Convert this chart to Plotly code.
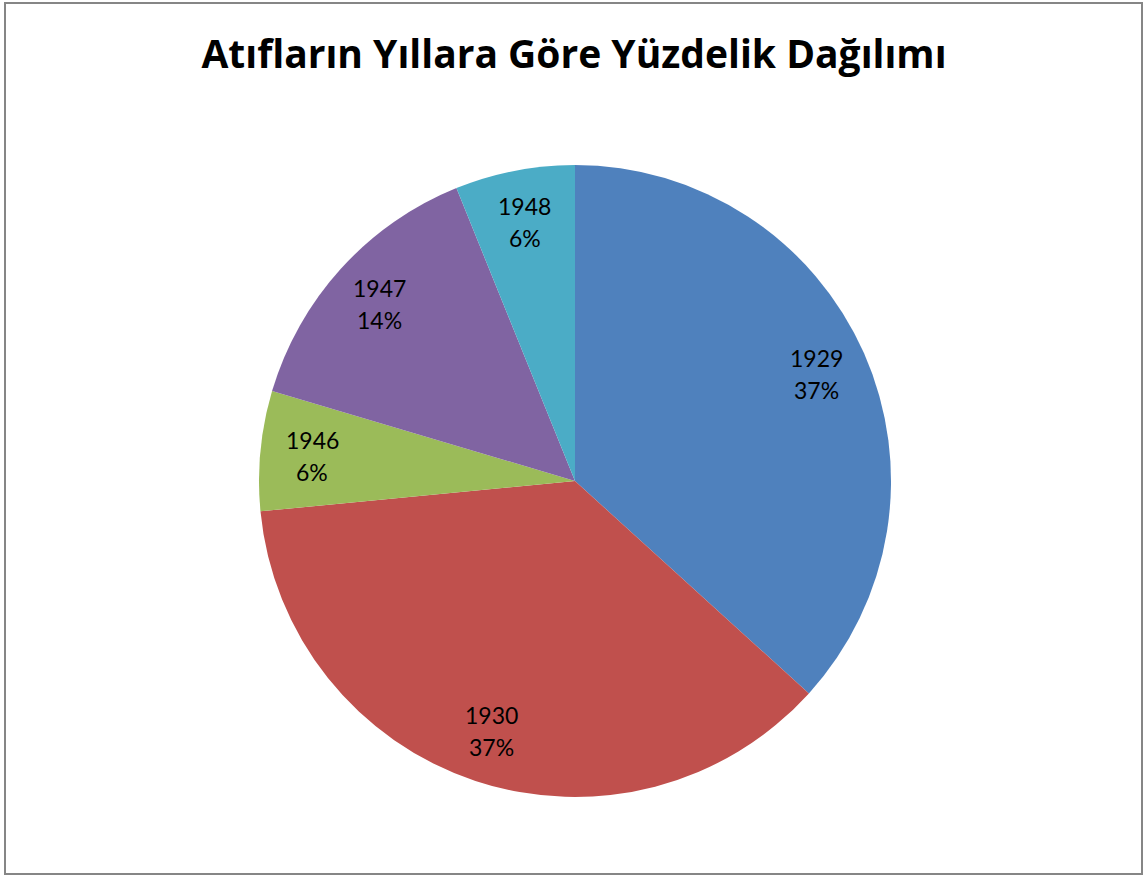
import math
import plotly.graph_objects as go

years = ["1929", "1930", "1946", "1947", "1948"]
counts = [18, 18, 3, 7, 3]
colors = ["#4F81BD", "#C0504D", "#9BBB59", "#8064A2", "#4BACC6"]
title_text = "Atıfların Yıllara Göre Yüzdelik Dağılımı"

W, H = 1144, 876
cx, cy, r = 575, 481, 316
label_r = 0.835
label_font = dict(family="Lato", size=23, color="black")

fig = go.Figure(go.Pie(
    labels=years,
    values=counts,
    sort=False,
    direction="clockwise",
    rotation=0,
    marker=dict(colors=colors, line=dict(width=0)),
    textinfo="none",
    showlegend=False,
    hoverinfo="label+percent",
    domain=dict(x=[(cx - r) / W, (cx + r) / W],
                y=[(H - cy - r) / H, (H - cy + r) / H]),
))

# data labels placed along each slice's bisector (derived from the values)
total = sum(counts)
cum = 0
annotations = []
for lab, v in zip(years, counts):
    mid = (cum + v / 2) / total * 2 * math.pi
    cum += v
    px = cx + label_r * r * math.sin(mid)
    py = cy - label_r * r * math.cos(mid)
    pct = f"{round(100 * v / total)}%"
    for txt, shift in ((lab, 16), (pct, -16)):
        annotations.append(dict(
            x=px / W, y=1 - py / H, xref="paper", yref="paper",
            text=txt, showarrow=False, xanchor="center", yanchor="middle",
            yshift=shift, font=label_font))

fig.update_layout(
    width=W, height=H,
    margin=dict(l=0, r=0, t=0, b=0),
    paper_bgcolor="white",
    title=dict(text=title_text, x=574 / W, xanchor="center",
               y=1 - 54 / H, yanchor="middle",
               font=dict(family="Open Sans", size=39, color="black", weight="bold")),
    annotations=annotations,
    shapes=[dict(type="rect", xref="paper", yref="paper",
                 x0=5 / W, x1=1142 / W, y0=1 - 874 / H, y1=1 - 3 / H,
                 line=dict(color="#868686", width=2), fillcolor="rgba(0,0,0,0)")],
)

fig.write_html("out.html", config={"displayModeBar": False},
               post_script="document.body.style.margin='0';")
